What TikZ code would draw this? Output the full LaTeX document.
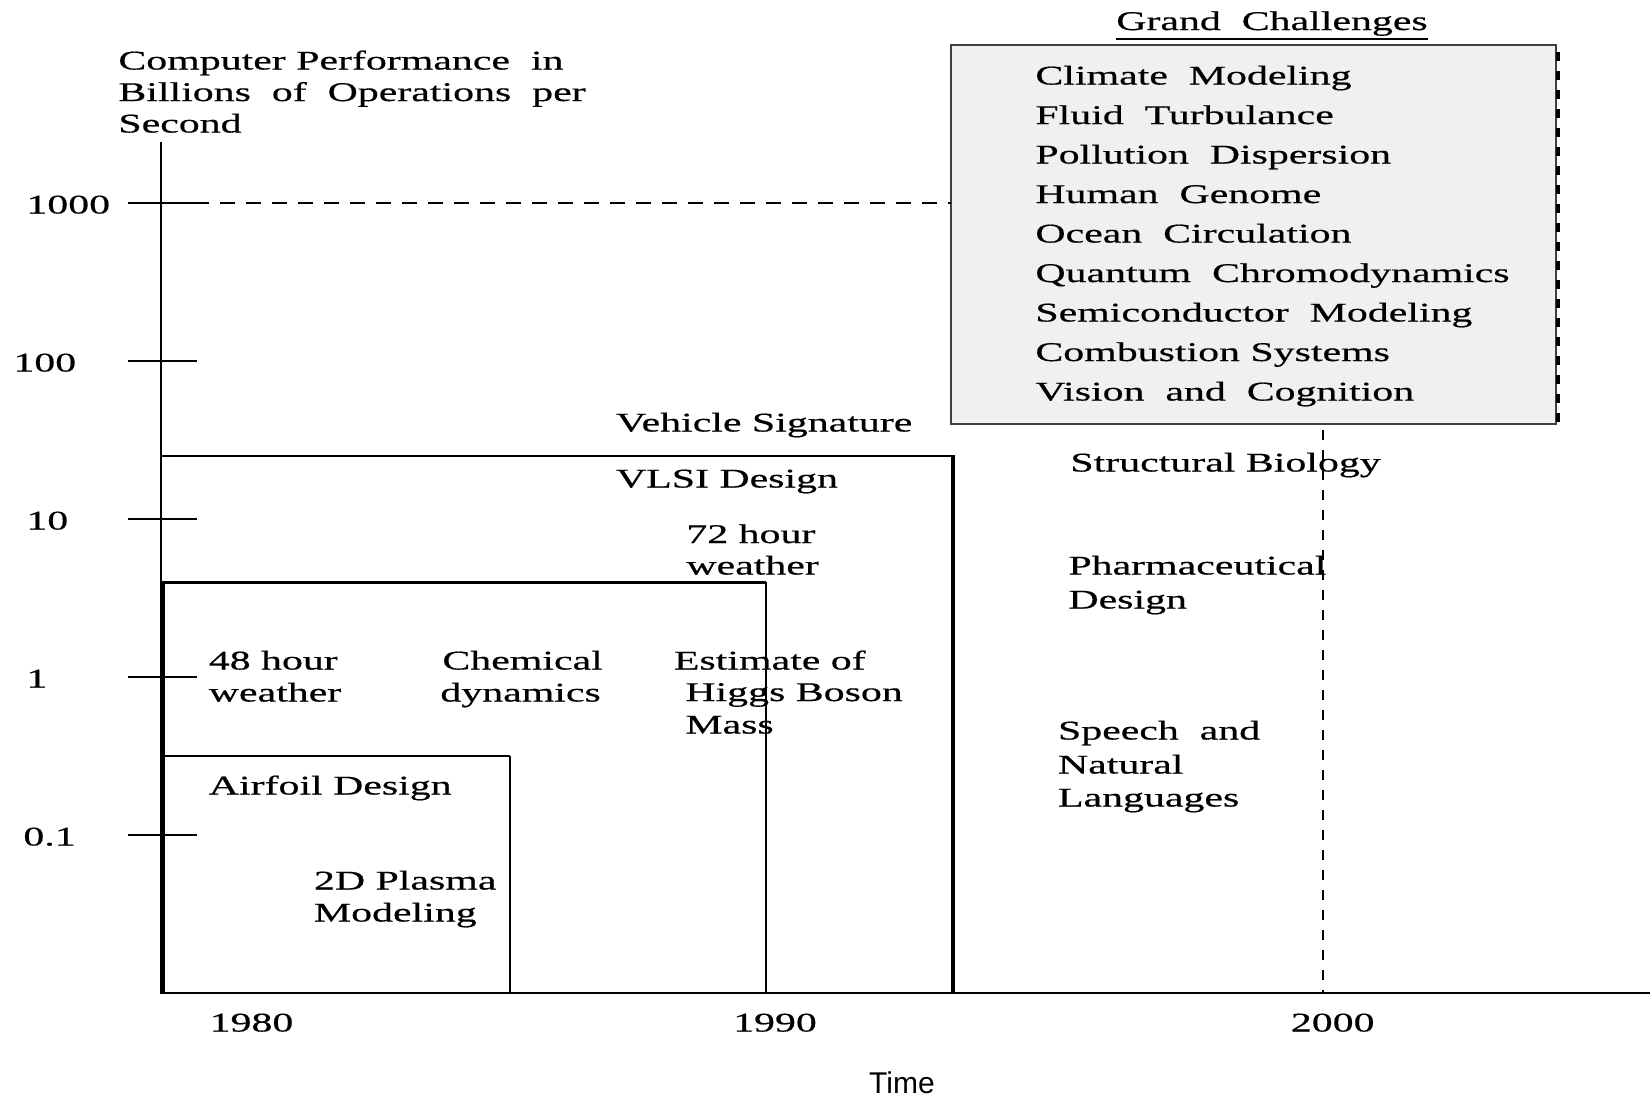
\documentclass[tikz,border=0pt]{standalone}
\usepackage{fontspec}
\setmainfont[FakeStretch=1.55,FakeBold=0.5]{Liberation Serif}
\newfontfamily\timefont{Liberation Sans}
\begin{document}
\begin{tikzpicture}[x=0.5pt,y=-0.5pt,
  lbl/.style={anchor=base west,inner sep=0pt,yshift=-0.75pt,font=\fontsize{13.5}{16}\selectfont},
  yearlbl/.style={anchor=base,inner sep=0pt,yshift=-0.75pt,font=\fontsize{13.5}{16}\selectfont},
  thinline/.style={line width=1pt,black},
  tickline/.style={line width=0.8pt,black},
  thickline/.style={line width=2pt,black},
  gcbox/.style={draw=black!75,line width=0.8pt,fill=black!6},
  levelline/.style={line width=1pt,dash pattern=on 7.5pt off 5.5pt},
  yearline/.style={line width=0.8pt,dash pattern=on 5pt off 5pt},
  edgedash/.style={line width=2pt,dash pattern=on 4.5pt off 5pt}]
\useasboundingbox (0,0) rectangle (1650,1100);
\fill[white] (0,0) rectangle (1650,1100);

% grand challenges panel
\draw[gcbox] (951,45) rectangle (1556,424);
\draw[edgedash] (1558,52) -- (1558,424);
\node[yearlbl] (gc) at (1272,28.5) {Grand~~Challenges};
\draw[line width=0.8pt] ([yshift=-4.5pt]gc.base west) -- ([yshift=-4.5pt]gc.base east);

\node[lbl] (g1) at (1035,83)  {Climate~~Modeling};
\node[lbl] (g2) at (1035,122.5) {Fluid~~Turbulance};
\node[lbl] (g3) at (1035,162) {Pollution~~Dispersion};
\node[lbl] (g4) at (1035,201.5) {Human~~Genome};
\node[lbl] (g5) at (1035,241) {Ocean~~Circulation};
\node[lbl] (g6) at (1035,280.5) {Quantum~~Chromodynamics};
\node[lbl] (g7) at (1035,320) {Semiconductor~~Modeling};
\node[lbl] (g8) at (1035,359.5) {Combustion Systems};
\node[lbl] (g9) at (1035,399) {Vision~~and~~Cognition};

% axes
\coordinate (O) at (161,992.7);
\coordinate (ytop) at (161,142);
\coordinate (xend) at (1650,992.7);
\draw[thinline] (ytop) -- (O) -- (xend);

% axis title
\node[lbl] (t1) at (118,68)  {Computer Performance~~in};
\node[lbl] (t2) at (118,99.5) {Billions~~of~~Operations~~per};
\node[lbl] (t3) at (118,131) {Second};

% performance ticks
\draw[tickline] (127.7,203) -- (197,203);
\draw[tickline] (127.7,361) -- (197,361);
\draw[tickline] (127.7,519) -- (197,519);
\draw[tickline] (127.7,677) -- (197,677);
\draw[tickline] (127.7,835) -- (197,835);
\node[lbl] (y1000) at (26,212) {1000};
\node[lbl] (y100)  at (13,370) {100};
\node[lbl] (y10)   at (26,528) {10};
\node[lbl] (y1)    at (26,686) {1};
\node[lbl] (y01)   at (23,844) {0.1};

% teraflop level and year 2000 marker
\coordinate (lvlstart) at (194,203);
\coordinate (lvlend) at (951,203);
\draw[levelline] (lvlstart) -- (lvlend);
\coordinate (ytwo) at (1323,430);
\coordinate (ytwoend) at (1323,992.7);
\draw[yearline] (ytwo) -- (ytwoend);

% nested capability regions
\draw[thinline] (161,456) -- (952.7,456);
\draw[thickline] (952.7,455) -- (952.7,992.7);
\draw[line width=1.5pt] (162.5,582) -- (765.7,582);
\draw[thinline] (765.7,582) -- (765.7,992.7);
\draw[thickline] (162.5,581) -- (162.5,992.7);
\draw[line width=1.2pt] (162.5,755.7) -- (510.4,755.7);
\draw[thinline] (510.4,755.7) -- (510.4,992.7);

% applications
\node[lbl] (a1) at (615.6,430) {Vehicle Signature};
\node[lbl] (a2) at (615.6,486) {VLSI Design};
\node[lbl] (a3) at (686,541.5) {72 hour};
\node[lbl] (a3b) at (686,573) {weather};
\node[lbl] (a4) at (208.4,668) {48 hour};
\node[lbl] (a4b) at (208.4,700) {weather};
\node[lbl] (a5) at (442,668) {Chemical};
\node[lbl] (a5b) at (440,700) {dynamics};
\node[lbl] (a6) at (673.5,668) {Estimate of};
\node[lbl] (a6b) at (685,699.5) {Higgs Boson};
\node[lbl] (a6c) at (685,732) {Mass};
\node[lbl] (a7) at (208.4,793) {Airfoil Design};
\node[lbl] (a8) at (313.6,888) {2D Plasma};
\node[lbl] (a8b) at (313.6,920) {Modeling};
\node[lbl] (a9) at (1070,470) {Structural Biology};
\node[lbl] (a10) at (1068,573) {Pharmaceutical};
\node[lbl] (a10b) at (1068,607) {Design};
\node[lbl] (a11) at (1057.6,738) {Speech~~and};
\node[lbl] (a11b) at (1057.6,772) {Natural};
\node[lbl] (a11c) at (1057.6,805) {Languages};

% time axis
\node[yearlbl] (x1980) at (251.5,1030) {1980};
\node[yearlbl] (x1990) at (775,1030) {1990};
\node[yearlbl] (x2000) at (1332.7,1030) {2000};
\node[anchor=base,inner sep=0pt,font=\timefont\fontsize{15}{18}\selectfont] (time) at (902,1093) {Time};
\end{tikzpicture}
\end{document}
